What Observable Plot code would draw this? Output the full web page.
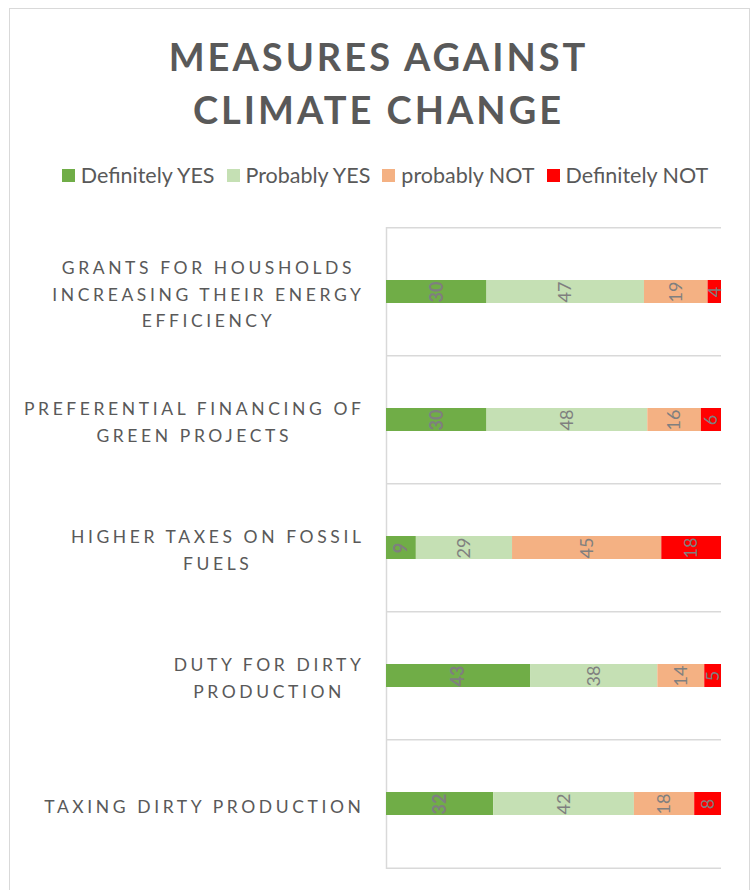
<!DOCTYPE html>
<html><head><meta charset="utf-8">
<script src="https://cdn.jsdelivr.net/npm/d3@7"></script>
<script src="https://cdn.jsdelivr.net/npm/@observablehq/plot@0.6"></script>
<style>
body{margin:0;background:#fff;}
#wrap{position:relative;width:754px;height:890px;overflow:hidden;font-family:Lato,"Open Sans",sans-serif;}
#frame{position:absolute;left:9px;top:8px;width:741px;height:900px;border:1.5px solid #d9d9d9;box-sizing:border-box;}
#title{position:absolute;top:30px;left:0;width:754px;padding-left:3px;box-sizing:border-box;text-align:center;font-weight:700;font-size:38px;line-height:53px;letter-spacing:3px;color:#595959;}
#legend{position:absolute;top:162px;left:0;width:754px;height:26px;padding-left:16px;box-sizing:border-box;display:flex;justify-content:center;align-items:center;font-size:21.5px;color:#595959;}
.item{display:flex;align-items:center;margin:0 6px;}
.sw{width:13px;height:13px;margin-right:6px;}
#chart{position:absolute;top:200px;left:0;}
</style></head><body>
<div id="wrap"><div id="frame"></div><div id="title">MEASURES AGAINST<br>CLIMATE CHANGE</div><div id="legend"></div><div id="chart"></div></div>
<script>
const categories = [
  "GRANTS FOR HOUSHOLDS\nINCREASING THEIR ENERGY\nEFFICIENCY",
  "PREFERENTIAL FINANCING OF\nGREEN PROJECTS",
  "HIGHER TAXES ON FOSSIL\nFUELS",
  "DUTY FOR DIRTY\nPRODUCTION",
  "TAXING DIRTY PRODUCTION"
];
const series = ["Definitely YES", "Probably YES", "probably NOT", "Definitely NOT"];
const colors = ["#70AD47", "#C5E0B4", "#F4B183", "#FF0000"];
const definitelyYes = [30, 30, 9, 43, 32];
const probablyYes   = [47, 48, 29, 38, 42];
const probablyNot   = [19, 16, 45, 14, 18];
const definitelyNot = [4, 6, 18, 5, 8];
const seriesValues = [definitelyYes, probablyYes, probablyNot, definitelyNot];

const rows = categories.flatMap((c, i) => series.map((s, j) => ({category: c, series: s, value: seriesValues[j][i]})));

// legend
const legend = document.getElementById("legend");
series.forEach((s, j) => {
  const it = document.createElement("div"); it.className = "item";
  const sw = document.createElement("div"); sw.className = "sw"; sw.style.background = colors[j];
  const tx = document.createElement("span"); tx.textContent = s;
  it.append(sw, tx); legend.append(it);
});

const W = 754, H = 690, mt = 27, mb = 21, ml = 386, mr = 33;
const step = (H - mt - mb) / categories.length;
const grid = "#d9d9d9";
const stackOpts = {x: "value", y: "category", z: "series", offset: "normalize", order: series};
const plot = Plot.plot({
  width: W, height: H, marginTop: mt, marginBottom: mb, marginLeft: ml, marginRight: mr,
  x: {domain: [0, 1], axis: null},
  y: {domain: categories, axis: null, paddingInner: 0.82, paddingOuter: 0.41},
  color: {domain: series, range: colors},
  style: {fontFamily: "Lato, 'Open Sans', sans-serif", background: "transparent", overflow: "visible"},
  marks: [
    Plot.ruleY(categories, {y: d => d, dy: -step / 2, stroke: grid, strokeWidth: 1.5}),
    Plot.ruleY(categories.slice(-1), {y: d => d, dy: step / 2, stroke: grid, strokeWidth: 1.5}),
    Plot.ruleX([0], {stroke: grid, strokeWidth: 1.5}),
    Plot.barX(rows, Plot.stackX({...stackOpts, fill: "series"})),
    Plot.text(rows, Plot.stackX({...stackOpts, text: d => d.series === series[0] ? String(d.value) : "",
      rotate: -90, fill: "#7f7f7f", fontSize: 18, fontWeight: "bold"})),
    Plot.text(rows, Plot.stackX({...stackOpts, text: d => d.series !== series[0] ? String(d.value) : "",
      rotate: -90, fill: "#7f7f7f", fontSize: 18})),
    Plot.text(categories, {x: 0, y: d => d, text: d => d, textAnchor: "end", dx: -22, lineHeight: 1.53, fontSize: 17.5, fill: "#595959", className: "cat"})
  ]
});
document.getElementById("chart").append(plot);

// center the lines of each category label within its right-aligned block, add letter spacing
const texts = plot.querySelectorAll("g[aria-label='text']");
const catG = plot.querySelector(".cat") || texts[texts.length - 1];
catG.style.letterSpacing = "3.6px";
catG.querySelectorAll("text").forEach(t => {
  const w = t.getBBox().width;
  t.setAttribute("text-anchor", "middle");
  const spans = t.querySelectorAll("tspan");
  if (spans.length) spans.forEach(sp => sp.setAttribute("x", -w / 2));
  else t.setAttribute("x", -w / 2);
});
</script>
</body></html>
